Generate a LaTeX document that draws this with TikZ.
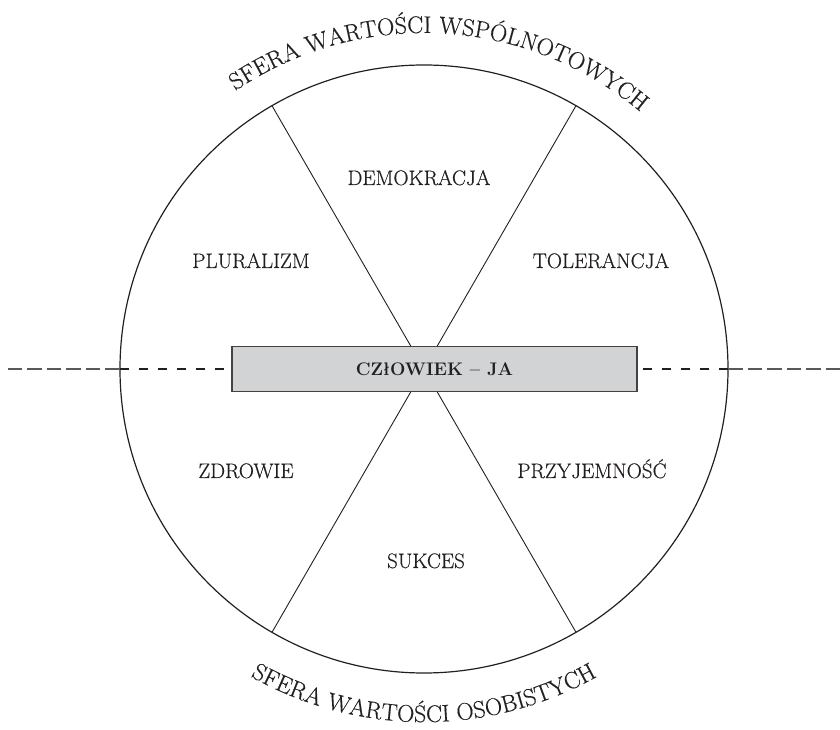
\documentclass[tikz,border=0pt]{standalone}
\usepackage{fontspec}
\newfontface\heavyrm{Latin Modern Roman}[FakeBold=0.4]
\usetikzlibrary{decorations.text}
\definecolor{boxgray}{HTML}{D1D3D4}
\definecolor{ink}{HTML}{231F20}
\definecolor{dashgray}{HTML}{58595B}
\begin{document}
\begin{tikzpicture}[x=1pt,y=1pt,
  ring/.style={circle,draw=ink,line width=1.2pt,minimum size=608pt,inner sep=0pt,outer sep=0pt},
  spoke/.style={draw=ink,line width=0.9pt},
  centerbox/.style={draw=ink!85,fill=boxgray,line width=1.2pt,minimum width=405pt,minimum height=45pt,inner sep=0pt,outer sep=0pt,text=ink,font=\fontsize{18.2}{21}\selectfont\bfseries},
  value/.style={anchor=base,inner sep=0pt,text=ink,font=\heavyrm\fontsize{21}{24}\selectfont},
  indash/.style={draw=ink,line width=2pt,dash pattern=on 9pt off 10pt},
  outdash/.style={draw=dashgray,line width=1.2pt,dash pattern=on 14.5pt off 5pt},
  arctext/.style={decorate,decoration={text along path,text align=center,text color=ink,text={|\heavyrm\fontsize{24}{28}\selectfont|#1}}}
]
\useasboundingbox (-424,-361) rectangle (416,369);
% circle
\node[ring] (ring) at (0,0) {};
% spokes (diameters at 60 and 120 degrees)
\draw[spoke] (ring.60) -- (ring.240);
\draw[spoke] (ring.120) -- (ring.300);
% central box
\node[centerbox] (me) at (10.5,0) {CZłOWIEK – JA};
% dashed axis
\coordinate (Lend) at (-417,0);
\coordinate (Rend) at (416,0);
\draw[outdash] (ring.180) -- (Lend);
\draw[outdash] (ring.0) -- (Rend);
\draw[indash] (ring.180) -- (me.west);
\draw[indash] (ring.0) -- (me.east);
% values
\node[value] (demo) at (-5,184) {DEMOKRACJA};
\node[value] (plur) at (-173,101) {PLURALIZM};
\node[value] (tole) at (177,101) {TOLERANCJA};
\node[value] (zdro) at (-178,-109) {ZDROWIE};
\node[value] (przy) at (168,-109) {PRZYJEMNOŚĆ};
\node[value] (sukc) at (2,-199) {SUKCES};
% curved titles
\path[arctext={SFERA WARTOŚCI WSPÓLNOTOWYCH}] (162:336) arc[start angle=162,end angle=12,radius=336pt];
\path[arctext={SFERA WARTOŚCI OSOBISTYCH}] (200:353) arc[start angle=200,end angle=340,radius=353pt];
\end{tikzpicture}
\end{document}
